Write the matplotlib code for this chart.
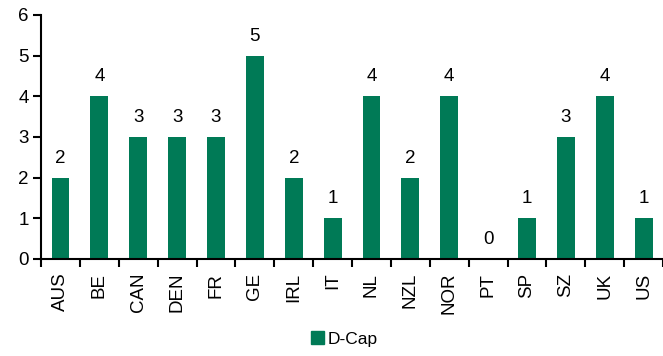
import matplotlib.pyplot as plt
from matplotlib.patches import Patch

plt.rcParams['font.family'] = ['Liberation Sans', 'DejaVu Sans']

countries = ["AUS", "BE", "CAN", "DEN", "FR", "GE", "IRL", "IT", "NL", "NZL",
             "NOR", "PT", "SP", "SZ", "UK", "US"]
dcap = [2, 4, 3, 3, 3, 5, 2, 1, 4, 2, 4, 0, 1, 3, 4, 1]

green = "#007A56"

fig = plt.figure(figsize=(6.63, 3.56), dpi=100)
ax = fig.add_axes([0.062, 0.273, 0.938, 0.685])

x = list(range(len(countries)))
ax.bar(x, dcap, width=0.46, color=green)

# value labels above each bar
for xi, v in zip(x, dcap):
    ax.text(xi, v + 0.27, str(v), ha="center", va="bottom", fontsize=13.5)

ax.set_xlim(-0.5, len(countries) - 0.5)
ax.set_ylim(0, 6)
ax.set_yticks(range(0, 7))
ax.tick_params(axis="y", labelsize=13.5, length=6, width=1.5, pad=3)

# category ticks sit between bars, labels centred under bars
ax.set_xticks([i - 0.5 for i in range(len(countries) + 1)])
ax.set_xticklabels([])
ax.set_xticks(x, minor=True)
ax.set_xticklabels(countries, minor=True, rotation=90, fontsize=13.5)
ax.tick_params(axis="x", which="major", length=6, width=1.5, direction="out")
ax.tick_params(axis="x", which="minor", length=0, pad=10)

for side in ("top", "right"):
    ax.spines[side].set_visible(False)
for side in ("left", "bottom"):
    ax.spines[side].set_linewidth(1.5)

fig.legend(handles=[Patch(color=green, label="D-Cap")], loc="center",
           bbox_to_anchor=(0.52, 0.048), frameon=False, fontsize=12.5,
           handlelength=0.75, handleheight=0.75, handletextpad=0.2)

fig.savefig("out.png", dpi=100)
